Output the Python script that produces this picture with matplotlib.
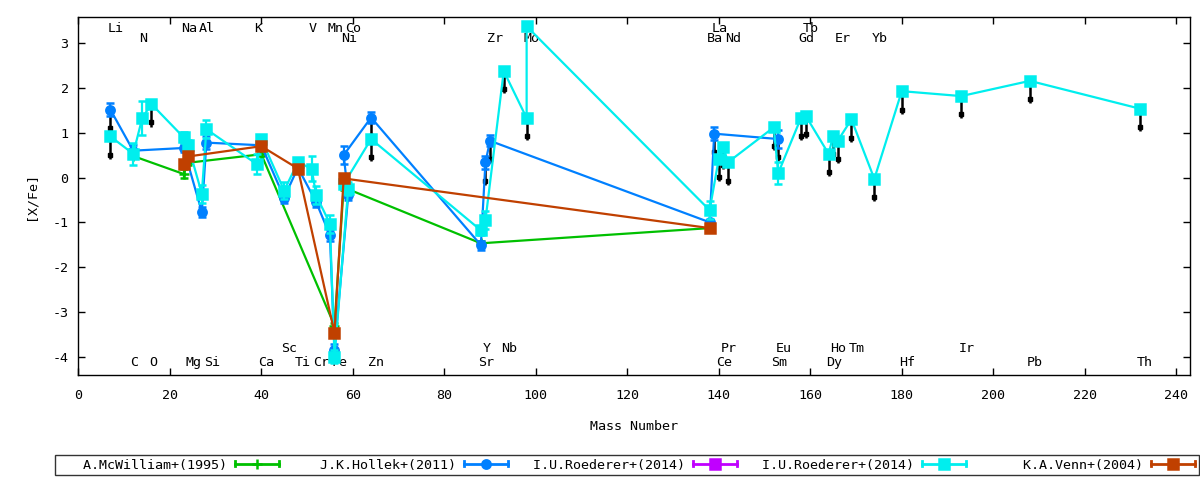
import numpy as np
import matplotlib
matplotlib.use('Agg')
import matplotlib.pyplot as plt
from matplotlib.lines import Line2D
from matplotlib.legend_handler import HandlerBase

plt.rcParams['font.family'] = ['DejaVu Sans Mono']
plt.rcParams['font.size'] = 9.6
plt.rcParams['axes.unicode_minus'] = False

# numero de massa usado para cada elemento
elementos = ['Li', 'C', 'N', 'O', 'Na', 'Mg', 'Al', 'Si', 'K', 'Ca', 'Sc', 'Ti', 'V', 'Cr', 'Mn', 'Fe',
             'Co', 'Ni', 'Zn', 'Sr', 'Y', 'Zr', 'Nb', 'Mo', 'Ba', 'La', 'Ce', 'Pr', 'Nd', 'Sm', 'Eu',
             'Gd', 'Tb', 'Dy', 'Ho', 'Er', 'Tm', 'Yb', 'Hf', 'Ir', 'Pb', 'Th']
massas = [7, 12, 14, 16, 23, 24, 27, 28, 39, 40, 45, 48, 51, 52, 55, 56,
          59, 58, 64, 88, 89, 90, 93, 98, 138, 139, 140, 141, 142, 152, 153,
          158, 159, 164, 165, 166, 169, 174, 180, 193, 208, 232]
massa = dict(zip(elementos, massas))

# rotulos dos elementos (duas linhas em cima, duas embaixo)
rotulos_topo1 = ['Li', 'Na', 'Al', 'K', 'V', 'Mn', 'Co', 'La', 'Tb']
rotulos_topo2 = ['N', 'Ni', 'Zr', 'Mo', 'Ba', 'Nd', 'Gd', 'Er', 'Yb']
rotulos_base1 = ['Sc', 'Y', 'Nb', 'Pr', 'Eu', 'Ho', 'Tm', 'Ir']
rotulos_base2 = ['C', 'O', 'Mg', 'Si', 'Ca', 'Ti', 'Cr', 'Fe', 'Zn', 'Sr', 'Ce', 'Sm', 'Dy',
                 'Hf', 'Pb', 'Th']

# A.McWilliam+(1995)
mcw_el = ['C', 'Na', 'Mg', 'Ca', 'Fe', 'Ni', 'Sr', 'Ba']
mcw_val = [0.48, 0.08, 0.33, 0.52, -3.31, -0.22, -1.47, -1.13]
mcw_err = [0.05, 0.10, 0.05, 0.05, 0.05, 0.05, 0.05, 0.05]
mcw_lim = [0, 0, 0, 0, 0, 0, 0, 0]

# J.K.Hollek+(2011)
hol_el = ['Li', 'C', 'Na', 'Al', 'Si', 'Ca', 'Sc', 'Ti', 'Cr', 'Mn', 'Fe', 'Co', 'Ni', 'Zn',
          'Sr', 'Y', 'Zr', 'Ba', 'La', 'Eu']
hol_val = [1.52, 0.60, 0.66, -0.77, 0.78, 0.72, -0.45, 0.22, -0.55, -1.29, -3.85, -0.40, 0.50, 1.34,
           -1.51, 0.34, 0.82, -1.00, 0.98, 0.86]
hol_err = [0.15, 0.12, 0.10, 0.12, 0.15, 0.10, 0.12, 0.10, 0.10, 0.12, 0.12, 0.10, 0.20, 0.12,
           0.10, 0.15, 0.12, 0.05, 0.15, 0.20]
hol_lim = [1, 0, 0, 0, 0, 0, 0, 0, 0, 0, 0, 0, 0, 1,
           0, 1, 1, 0, 1, 1]

# I.U.Roederer+(2014) - primeira estrela (sem pontos visiveis)
roe1_el = []
roe1_val = []
roe1_err = []
roe1_lim = []

# I.U.Roederer+(2014)
roe2_el = ['Li', 'C', 'N', 'O', 'Na', 'Mg', 'Al', 'Si', 'K', 'Ca', 'Sc', 'Ti', 'V', 'Cr', 'Mn',
           'Fe', 'Co', 'Ni', 'Zn', 'Sr', 'Y', 'Nb', 'Mo', 'Mo', 'Ba', 'Ce', 'Pr', 'Nd', 'Sm',
           'Eu', 'Gd', 'Tb', 'Dy', 'Ho', 'Er', 'Tm', 'Yb', 'Hf', 'Ir', 'Pb', 'Th']
roe2_val = [0.92, 0.53, 1.34, 1.64, 0.90, 0.72, -0.36, 1.08, 0.30, 0.86, -0.29, 0.34, 0.20, -0.40,
            -1.03, -4.00, -0.25, -0.15, 0.86, -1.18, -0.95, 2.38, 1.33, 3.38, -0.73, 0.42, 0.69,
            0.34, 1.12, 0.10, 1.34, 1.38, 0.53, 0.93, 0.82, 1.30, -0.03, 1.93, 1.82, 2.16, 1.54]
roe2_err = [0.00, 0.25, 0.38, 0.00, 0.12, 0.12, 0.20, 0.20, 0.22, 0.10, 0.20, 0.10, 0.28, 0.20,
            0.20, 0.15, 0.15, 0.10, 0.00, 0.10, 0.20, 0.00, 0.00, 0.00, 0.20, 0.00, 0.00,
            0.00, 0.00, 0.25, 0.00, 0.00, 0.00, 0.00, 0.00, 0.00, 0.00, 0.00, 0.00, 0.00, 0.00]
roe2_lim = [1, 0, 0, 1, 0, 0, 0, 0, 0, 0, 0, 0, 0, 0,
            0, 0, 0, 0, 1, 0, 0, 1, 1, 0, 0, 1, 1,
            1, 1, 0, 1, 1, 1, 1, 1, 1, 1, 1, 1, 1, 1]

# K.A.Venn+(2004)
ven_el = ['Na', 'Mg', 'Ca', 'Ti', 'Fe', 'Ni', 'Ba']
ven_val = [0.30, 0.47, 0.70, 0.20, -3.47, -0.02, -1.13]
ven_err = [0.05, 0.05, 0.05, 0.05, 0.05, 0.05, 0.05]
ven_lim = [0, 0, 0, 0, 0, 0, 0]

series = [
    ('A.McWilliam+(1995)', mcw_el, mcw_val, mcw_err, mcw_lim, '#00c000', '+', 7),
    ('J.K.Hollek+(2011)', hol_el, hol_val, hol_err, hol_lim, '#0080ff', 'o', 6),
    ('I.U.Roederer+(2014)', roe1_el, roe1_val, roe1_err, roe1_lim, '#c000ff', 's', 7),
    ('I.U.Roederer+(2014)', roe2_el, roe2_val, roe2_err, roe2_lim, '#00eeee', 's', 7.5),
    ('K.A.Venn+(2004)', ven_el, ven_val, ven_err, ven_lim, '#c04000', 's', 7),
]


class HandlerErro(HandlerBase):
    # amostra no estilo do gnuplot: linha com tampas nas pontas e marcador no meio
    def create_artists(self, legend, orig_handle, xdescent, ydescent, width, height, fontsize, trans):
        y = height / 2 - ydescent
        x0, x1 = -xdescent, width - xdescent
        cor = orig_handle.get_color()
        h = height * 0.55
        artistas = [
            Line2D([x0, x1], [y, y], color=cor, lw=2),
            Line2D([x0, x0], [y - h / 2, y + h / 2], color=cor, lw=2),
            Line2D([x1, x1], [y - h / 2, y + h / 2], color=cor, lw=2),
            Line2D([(x0 + x1) / 2], [y], color=cor, ls='none', marker=orig_handle.get_marker(),
                   ms=orig_handle.get_markersize(), mew=orig_handle.get_markeredgewidth()),
        ]
        for a in artistas:
            a.set_transform(trans)
        return artistas


fig = plt.figure(figsize=(12, 4.8), dpi=100)
ax = fig.add_axes([0.06525, 0.2181, 0.9264, 0.7458])

handles = []
labels = []
for k, (nome, els, vals, errs, lims, cor, mk, ms) in enumerate(series):
    x = np.array([massa[e] for e in els], dtype=float)
    y = np.array(vals, dtype=float)
    e = np.array(errs, dtype=float)
    if len(x) > 0:
        ax.errorbar(x, y, yerr=e, color=cor, lw=1.6, elinewidth=1.6, capsize=3, capthick=1.6,
                    marker=mk, ms=ms, mew=1.8, zorder=2 + k)
        # limites superiores (setas pretas para baixo)
        sel = np.array(lims, dtype=bool)
        ax.vlines(x[sel], y[sel] - 0.5, y[sel], color='black', lw=1.8, zorder=1.5)
        ax.plot(x[sel], y[sel] - 0.41, 's', color='black', ms=3, zorder=1.5)
    handles.append(Line2D([], [], color=cor, marker=mk, ms=ms, mew=1.8))
    labels.append(nome.rjust(21))

for lista, yy in [(rotulos_topo1, 3.33), (rotulos_topo2, 3.11),
                  (rotulos_base1, -3.83), (rotulos_base2, -4.14)]:
    for el in lista:
        ax.text(massa[el] - 0.6, yy, el, ha='left', va='center', zorder=1)

ax.set_xlim(0, 243)
ax.set_ylim(-4.42, 3.58)
ax.set_xticks(np.arange(0, 241, 20))
ax.set_yticks(np.arange(-4, 4, 1))
ax.tick_params(direction='in', length=5, width=1, top=True, right=True)
ax.tick_params(axis='x', pad=10)
ax.tick_params(axis='y', pad=7)
for s in ax.spines.values():
    s.set_linewidth(1)
ax.set_xlabel('Mass Number', labelpad=13)
ax.set_ylabel('[X/Fe]', labelpad=11)

fig.legend(handles, labels, loc='center', bbox_to_anchor=(0.5225, 0.03125), ncol=5,
           markerfirst=False, frameon=True, fancybox=False, edgecolor='black',
           handlelength=3.3, handletextpad=0.6, columnspacing=0.68, borderpad=0.28,
           borderaxespad=0, handler_map={Line2D: HandlerErro()})
leg = fig.legends[0]
leg.get_frame().set_linewidth(1)

fig.savefig('out.png', dpi=100)
